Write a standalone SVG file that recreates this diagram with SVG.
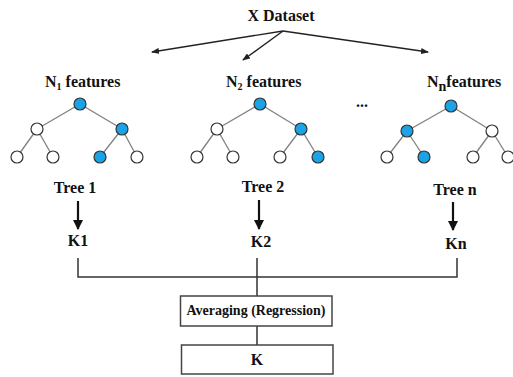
<svg xmlns="http://www.w3.org/2000/svg" width="513" height="377" viewBox="0 0 513 377">
<style>
text{font-family:"Liberation Serif","Times New Roman",serif;font-weight:bold;fill:#111}
.t{font-size:16px}
.e{stroke:#808080;stroke-width:1.3}
.n{stroke:#333;stroke-width:1.2;fill:#fff}
.b{fill:#1aa3e6}
.a{stroke:#222;stroke-width:1.4;fill:none}
.d{stroke:#111;stroke-width:2.2;fill:none}
.k{stroke:#333;stroke-width:1.5;fill:none}
.box{fill:#fff;stroke:#444;stroke-width:1.5}
</style>
<defs>
<marker id="ah" markerWidth="8" markerHeight="6" refX="7" refY="3" orient="auto" markerUnits="userSpaceOnUse">
<path d="M0,0 L8,3 L0,6 Z" fill="#222"/>
</marker>
<marker id="dh" markerWidth="10" markerHeight="10" refX="9" refY="5" orient="auto" markerUnits="userSpaceOnUse">
<path d="M0,0 L10,5 L0,10 Z" fill="#111"/>
</marker>
</defs>
<rect width="513" height="377" fill="#fff"/>

<g id="dataset"><text class="t" x="281" y="21" text-anchor="middle">X Dataset</text></g>

<g id="connectors">
<line class="a" x1="283" y1="31" x2="152" y2="52" marker-end="url(#ah)"/>
<line class="a" x1="283" y1="31" x2="243" y2="60" marker-end="url(#ah)"/>
<line class="a" x1="283" y1="31" x2="428" y2="52" marker-end="url(#ah)"/>
<line class="d" x1="78" y1="201" x2="78" y2="229" marker-end="url(#dh)"/>
<line class="d" x1="259" y1="200" x2="259" y2="229" marker-end="url(#dh)"/>
<line class="d" x1="453" y1="202" x2="453" y2="230" marker-end="url(#dh)"/>
<path class="k" d="M78,258 V277 H457 V258 M257,258 V296 M257,326 V345"/>
</g>

<g id="tree1">
<text class="t" x="45" y="87">N<tspan font-size="10" dy="3">1</tspan><tspan dy="-3"> features</tspan></text>
<line class="e" x1="80" y1="104" x2="37" y2="129"/><line class="e" x1="80" y1="104" x2="122" y2="129"/>
<line class="e" x1="37" y1="129" x2="17" y2="157"/><line class="e" x1="37" y1="129" x2="53" y2="157"/>
<line class="e" x1="122" y1="129" x2="100" y2="157"/><line class="e" x1="122" y1="129" x2="137" y2="157"/>
<circle class="n b" cx="80" cy="104" r="6"/>
<circle class="n" cx="37" cy="129" r="6"/><circle class="n b" cx="122" cy="129" r="6"/>
<circle class="n" cx="17" cy="157" r="6"/><circle class="n" cx="53" cy="157" r="6"/>
<circle class="n b" cx="100" cy="157" r="6"/><circle class="n" cx="137" cy="157" r="6"/>
<text class="t" x="75" y="193" text-anchor="middle">Tree 1</text>
</g>

<g id="tree2">
<text class="t" x="226" y="87">N<tspan font-size="10" dy="3">2</tspan><tspan dy="-3"> features</tspan></text>
<line class="e" x1="260" y1="104" x2="217" y2="129"/><line class="e" x1="260" y1="104" x2="301" y2="129"/>
<line class="e" x1="217" y1="129" x2="197" y2="157"/><line class="e" x1="217" y1="129" x2="233" y2="157"/>
<line class="e" x1="301" y1="129" x2="280" y2="157"/><line class="e" x1="301" y1="129" x2="318" y2="157"/>
<circle class="n b" cx="260" cy="104" r="6"/>
<circle class="n" cx="217" cy="129" r="6"/><circle class="n b" cx="301" cy="129" r="6"/>
<circle class="n" cx="197" cy="157" r="6"/><circle class="n" cx="233" cy="157" r="6"/>
<circle class="n" cx="280" cy="157" r="6"/><circle class="n b" cx="318" cy="157" r="6"/>
<text class="t" x="263" y="192" text-anchor="middle">Tree 2</text>
</g>

<g id="dots"><text class="t" x="362" y="107" text-anchor="middle">...</text></g>

<g id="treen">
<text class="t" x="427" y="87">N<tspan font-size="14" dy="4">n</tspan><tspan dy="-4">features</tspan></text>
<line class="e" x1="451" y1="106" x2="407" y2="131"/><line class="e" x1="451" y1="106" x2="492" y2="131"/>
<line class="e" x1="407" y1="131" x2="387" y2="157"/><line class="e" x1="407" y1="131" x2="424" y2="157"/>
<line class="e" x1="492" y1="131" x2="473" y2="157"/><line class="e" x1="492" y1="131" x2="508" y2="157"/>
<circle class="n b" cx="451" cy="106" r="6"/>
<circle class="n b" cx="407" cy="131" r="6"/><circle class="n" cx="492" cy="131" r="6"/>
<circle class="n" cx="387" cy="157" r="6"/><circle class="n b" cx="424" cy="157" r="6"/>
<circle class="n" cx="473" cy="157" r="6"/><circle class="n" cx="508" cy="157" r="6"/>
<text class="t" x="455" y="195" text-anchor="middle">Tree n</text>
</g>

<g id="k1"><text class="t" x="78" y="246" text-anchor="middle">K1</text></g>
<g id="k2"><text class="t" x="261" y="247" text-anchor="middle">K2</text></g>
<g id="kn"><text class="t" x="456" y="249" text-anchor="middle">Kn</text></g>

<g id="averaging">
<rect class="box" x="180.5" y="296" width="151.5" height="30"/>
<text x="256" y="315" font-size="14" text-anchor="middle">Averaging (Regression)</text>
</g>
<g id="k">
<rect class="box" x="181.5" y="345" width="151.5" height="29"/>
<text class="t" x="257" y="365" text-anchor="middle">K</text>
</g>
</svg>
